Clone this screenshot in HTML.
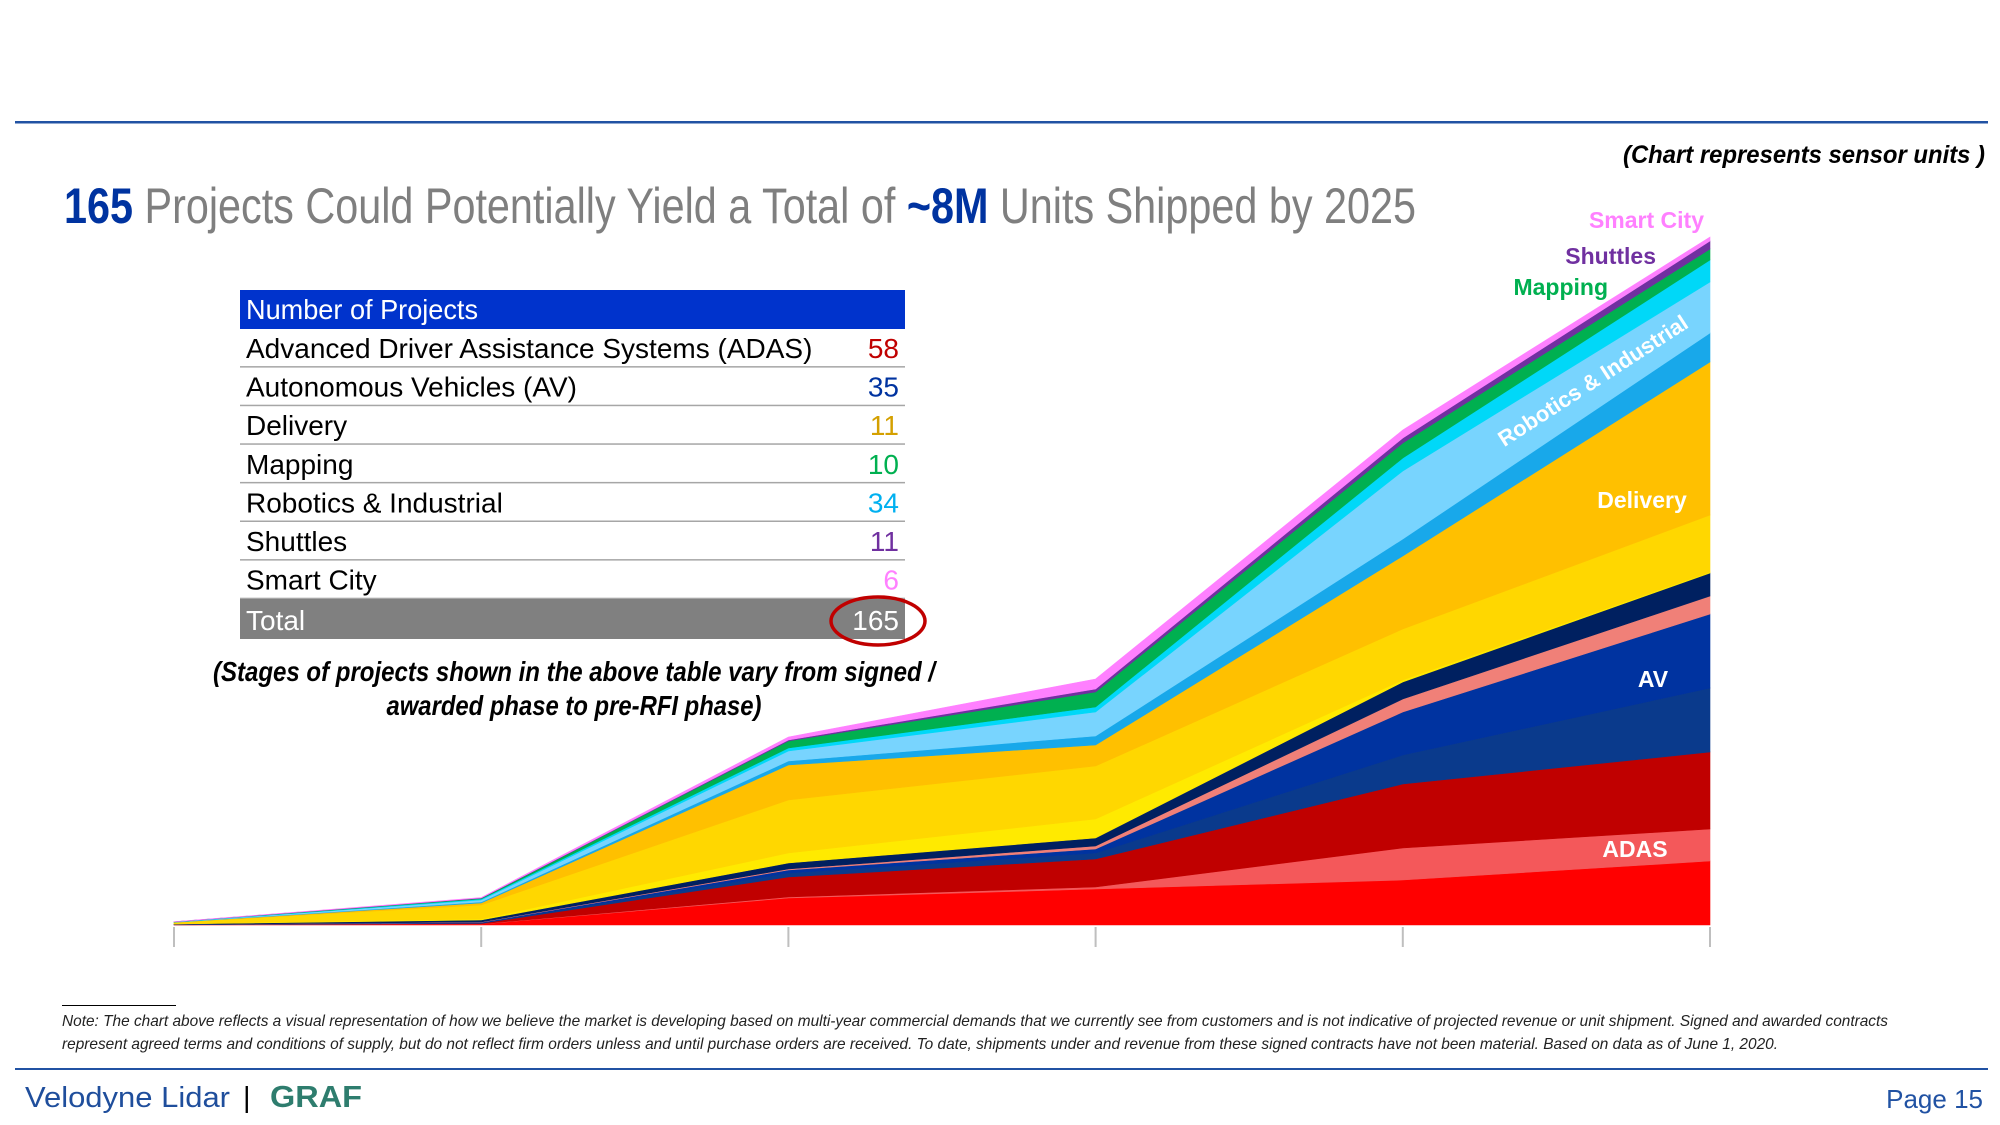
<!DOCTYPE html>
<html><head><meta charset="utf-8"><style>
html,body{margin:0;padding:0;background:#fff;}
svg{display:block;font-family:"Liberation Sans",sans-serif;}
</style></head><body>
<svg id="root" width="2000" height="1125" viewBox="0 0 2000 1125" xmlns="http://www.w3.org/2000/svg">
<rect x="15" y="121" width="1973" height="2.5" fill="#2152a3"/>
<text x="1985" y="163" text-anchor="end" font-size="25" font-weight="bold" font-style="italic" fill="#000" textLength="362" lengthAdjust="spacingAndGlyphs">(Chart represents sensor units )</text>
<text x="64" y="223" font-size="50" fill="#7f7f7f" textLength="1352" lengthAdjust="spacingAndGlyphs"><tspan font-weight="bold" fill="#0033a0">165</tspan> Projects Could Potentially Yield a Total of <tspan font-weight="bold" fill="#0033a0">~8M</tspan> Units Shipped by 2025</text>

<g id="chart"></g>
<g id="labels">
<text x="1704" y="228" text-anchor="end" font-size="23" font-weight="bold" fill="#ff80ff">Smart City</text>
<text x="1656" y="264" text-anchor="end" font-size="23" font-weight="bold" fill="#7030a0">Shuttles</text>
<text x="1608" y="295" text-anchor="end" font-size="23" font-weight="bold" fill="#00b050">Mapping</text>
<text x="0" y="0" text-anchor="middle" font-size="22" font-weight="bold" fill="#fff" transform="translate(1597,387) rotate(-33)">Robotics &amp; Industrial</text>
<text x="1642" y="508" text-anchor="middle" font-size="23" font-weight="bold" fill="#fff">Delivery</text>
<text x="1653" y="687" text-anchor="middle" font-size="23" font-weight="bold" fill="#fff">AV</text>
<text x="1635" y="857" text-anchor="middle" font-size="23" font-weight="bold" fill="#fff">ADAS</text>
</g>

<g id="table">
<rect x="240" y="290" width="665" height="39" fill="#0033cc"/>
<text x="246" y="319" font-size="28" fill="#fff" textLength="232" lengthAdjust="spacingAndGlyphs">Number of Projects</text>
</g>

<text x="574" y="681" text-anchor="middle" font-size="28" font-weight="bold" font-style="italic" fill="#000" textLength="722" lengthAdjust="spacingAndGlyphs">(Stages of projects shown in the above table vary from signed /</text>
<text x="574" y="715" text-anchor="middle" font-size="28" font-weight="bold" font-style="italic" fill="#000" textLength="375" lengthAdjust="spacingAndGlyphs">awarded phase to pre-RFI phase)</text>

<rect x="62" y="1005" width="114" height="1" fill="#000"/>
<text x="62" y="1026" font-size="16" font-style="italic" fill="#222" textLength="1826" lengthAdjust="spacingAndGlyphs">Note: The chart above reflects a visual representation of how we believe the market is developing based on multi-year commercial demands that we currently see from customers and is not indicative of projected revenue or unit shipment. Signed and awarded contracts</text>
<text x="62" y="1049" font-size="16" font-style="italic" fill="#222" textLength="1716" lengthAdjust="spacingAndGlyphs">represent agreed terms and conditions of supply, but do not reflect firm orders unless and until purchase orders are received. To date, shipments under and revenue from these signed contracts have not been material. Based on data as of June 1, 2020.</text>
<rect x="15" y="1068" width="1973" height="2" fill="#2152a3"/>
<text x="25" y="1107" font-size="29" fill="#1f4e9c" textLength="205" lengthAdjust="spacingAndGlyphs">Velodyne Lidar</text>
<text x="243" y="1107" font-size="29" fill="#000">|</text>
<text x="270" y="1107" font-size="31" font-weight="bold" fill="#2e7d6e" textLength="92" lengthAdjust="spacingAndGlyphs">GRAF</text>
<text x="1983" y="1108" text-anchor="end" font-size="26" fill="#2152a3">Page 15</text>
</svg>
<script>
// years on x axis
const years = [2020, 2021, 2022, 2023, 2024, 2025];
// series values (thousand units), bottom to top
const adasRed      = [1, 12, 324, 432, 540, 768];
const adasSalmon   = [1, 2, 12, 24, 384, 384];
const adasDark     = [1, 6, 240, 336, 768, 924];
const avStripes    = [1, 6, 48, 72, 348, 768];
const avBlue       = [1, 6, 36, 48, 516, 888];
const avSalmon     = [1, 4, 12, 36, 156, 216];
const avNavy       = [6, 24, 72, 96, 204, 276];
const delBright    = [1, 12, 120, 228, 24, 12];
const delYellow    = [18, 168, 636, 636, 612, 684];
const delOrange    = [2, 24, 420, 252, 876, 1836];
const robBlue      = [1, 12, 48, 108, 204, 348];
const robLight     = [2, 24, 120, 288, 816, 612];
const robCyan      = [1, 12, 36, 60, 156, 264];
const mapping      = [1, 8, 84, 180, 180, 132];
const shuttles     = [1, 4, 12, 36, 60, 96];
const smartCity    = [1, 6, 36, 120, 96, 48];
// table data
const tableLabels = ["Advanced Driver Assistance Systems (ADAS)","Autonomous Vehicles (AV)","Delivery","Mapping","Robotics & Industrial","Shuttles","Smart City"];
const tableValues = [58, 35, 11, 10, 34, 11, 6];
const tableTotal = 165;

const NS = "http://www.w3.org/2000/svg";
const X0 = 174, X1 = 1710, Y0 = 925, PXPER = 12;
function xs(i){ return X0 + (X1 - X0) * i / (years.length - 1); }
function ys(v){ return Y0 - v / PXPER; }

const layers = [
 ["adas-red", adasRed, "#ff0000"],
 ["adas-salmon", adasSalmon, "#f4585a"],
 ["adas-dark-red", adasDark, "#c00000"],
 ["av-stripes", avStripes, "#0a3a8c"],
 ["av-blue", avBlue, "#0033a0"],
 ["av-salmon", avSalmon, "#f08078"],
 ["av-navy", avNavy, "#002060"],
 ["delivery-bright", delBright, "#ffea00"],
 ["delivery-yellow", delYellow, "#ffd700"],
 ["delivery-orange", delOrange, "#ffc000"],
 ["robotics-blue", robBlue, "#18a8ea"],
 ["robotics-light", robLight, "#78d4fe"],
 ["robotics-cyan", robCyan, "#00d8f8"],
 ["mapping", mapping, "#00b050"],
 ["shuttles", shuttles, "#7030a0"],
 ["smart-city", smartCity, "#ff80ff"]
];
const chart = document.getElementById("chart");
let base = years.map(() => 0);
layers.forEach(function(L){
  const top = base.map((b, i) => b + L[1][i]);
  let d = "";
  top.forEach((t, i) => { d += (i ? "L" : "M") + xs(i).toFixed(1) + "," + ys(t).toFixed(1); });
  for (let i = years.length - 1; i >= 0; i--) d += "L" + xs(i).toFixed(1) + "," + ys(base[i]).toFixed(1);
  d += "Z";
  const p = document.createElementNS(NS, "path");
  p.setAttribute("d", d);
  p.setAttribute("fill", L[2]);
  p.setAttribute("stroke", L[2]);
  p.setAttribute("stroke-width", "0.6");
  
  
  chart.appendChild(p);
  base = top;
});
years.forEach(function(y, i){
  const t = document.createElementNS(NS, "rect");
  t.setAttribute("x", xs(i) - 1); t.setAttribute("y", Y0 + 2);
  t.setAttribute("width", 2); t.setAttribute("height", 20);
  t.setAttribute("fill", "#bfbfbf");
  
  
  chart.appendChild(t);
});

const colors = ["#c00000","#0033a0","#d4a000","#00b050","#00b0f0","#7030a0","#ff80ff"];
const tbl = document.getElementById("table");
const rowH = 38.6, rowTop = 329;
tableLabels.forEach(function(lbl, i){
  const yTop = rowTop + i * rowH;
  const tx = document.createElementNS(NS, "text");
  tx.setAttribute("x", 246); tx.setAttribute("y", yTop + 29);
  tx.setAttribute("font-size", "28"); tx.setAttribute("fill", "#000");
  tx.textContent = lbl;
  
  
  tbl.appendChild(tx);
  const v = document.createElementNS(NS, "text");
  v.setAttribute("x", 899); v.setAttribute("y", yTop + 29);
  v.setAttribute("font-size", "28"); v.setAttribute("text-anchor", "end");
  v.setAttribute("fill", colors[i]);
  v.textContent = tableValues[i];
  
  
  tbl.appendChild(v);
  const ln = document.createElementNS(NS, "rect");
  ln.setAttribute("x", 240); ln.setAttribute("y", yTop + rowH - 1.5);
  ln.setAttribute("width", 665); ln.setAttribute("height", 1.5);
  ln.setAttribute("fill", "#a6a6a6");
  
  
  tbl.appendChild(ln);
});
const tr = document.createElementNS(NS, "rect");
tr.setAttribute("x", 240); tr.setAttribute("y", 599);
tr.setAttribute("width", 665); tr.setAttribute("height", 40); tr.setAttribute("fill", "#808080");


tbl.appendChild(tr);
const tl = document.createElementNS(NS, "text");
tl.setAttribute("x", 246); tl.setAttribute("y", 630); tl.setAttribute("font-size", "28"); tl.setAttribute("fill", "#fff");
tl.textContent = "Total";


tbl.appendChild(tl);
const tv = document.createElementNS(NS, "text");
tv.setAttribute("x", 899); tv.setAttribute("y", 630); tv.setAttribute("font-size", "28"); tv.setAttribute("fill", "#fff"); tv.setAttribute("text-anchor", "end");
tv.textContent = tableTotal;


tbl.appendChild(tv);
const el = document.createElementNS(NS, "ellipse");
el.setAttribute("cx", 878); el.setAttribute("cy", 621); el.setAttribute("rx", 47); el.setAttribute("ry", 24);
el.setAttribute("fill", "none"); el.setAttribute("stroke", "#c00000"); el.setAttribute("stroke-width", "3.5");


tbl.appendChild(el);
</script>
</body></html>
